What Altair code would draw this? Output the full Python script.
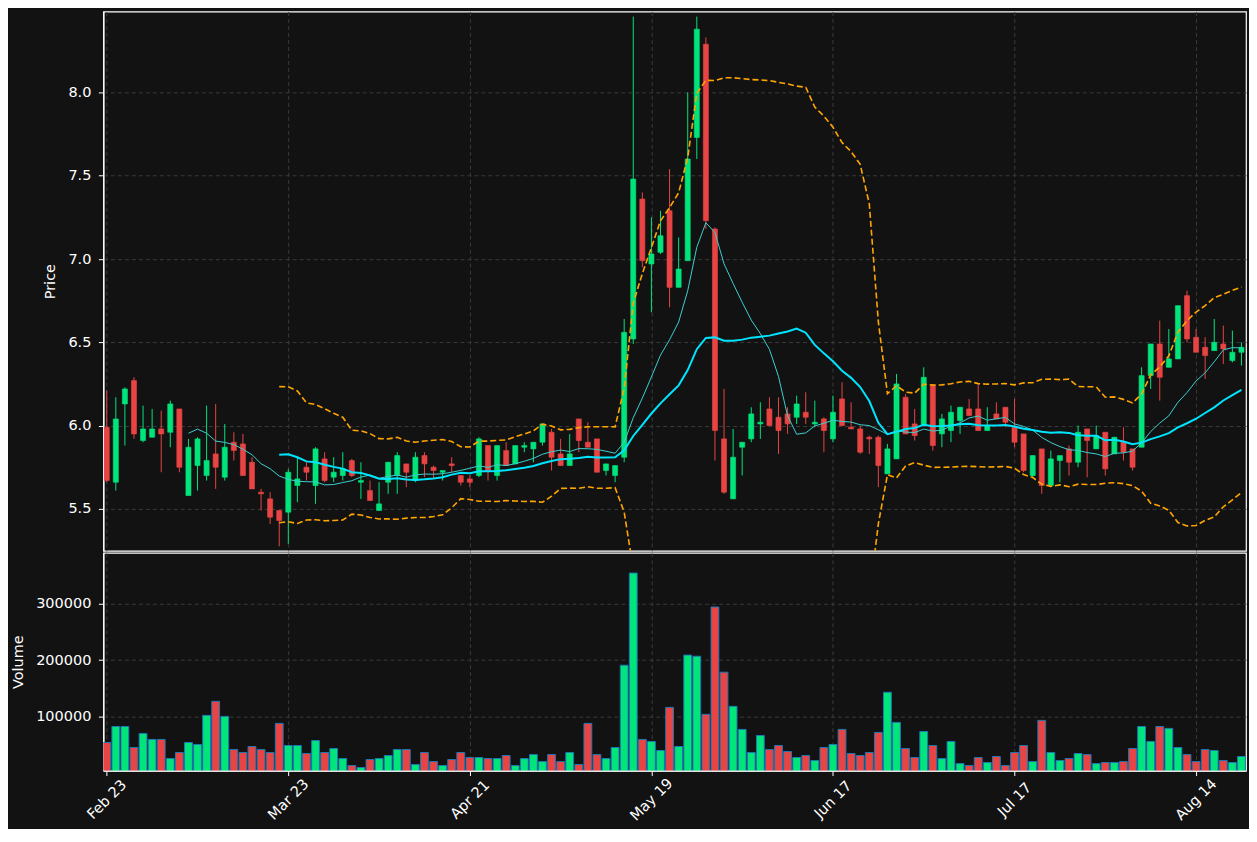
import json
import altair as alt
import numpy as np
import pandas as pd

tick_positions = [0, 20, 40, 60, 80, 100, 120]
tick_labels = ["Feb 23", "Mar 23", "Apr 21", "May 19", "Jun 17", "Jul 17", "Aug 14"]

opens = [5.99, 5.66, 6.13, 6.27, 5.91, 5.93, 5.98, 5.96, 6.10, 5.58,
         5.76, 5.70, 5.83, 5.69, 5.90, 5.89, 5.78, 5.60, 5.56, 5.49,
         5.48, 5.64, 5.75, 5.64, 5.80, 5.69, 5.70, 5.79, 5.66, 5.61,
         5.49, 5.66, 5.70, 5.77, 5.67, 5.82, 5.75, 5.72, 5.77, 5.70,
         5.68, 5.70, 5.88, 5.70, 5.85, 5.77, 5.87, 5.86, 5.90, 5.96,
         5.83, 5.76, 6.04, 5.90, 5.92, 5.73, 5.70, 5.81, 6.52, 7.36,
         6.97, 7.04, 7.29, 6.83, 6.99, 7.73, 8.29, 7.18, 5.92, 5.56,
         5.87, 5.92, 6.01, 6.10, 6.05, 6.07, 6.05, 6.08, 6.01, 6.04,
         5.92, 6.16, 5.99, 5.98, 5.93, 5.93, 5.71, 5.80, 6.17, 6.01,
         6.00, 6.24, 5.95, 5.97, 6.03, 6.10, 6.10, 5.97, 6.07, 6.11,
         5.99, 5.95, 5.70, 5.86, 5.64, 5.79, 5.86, 5.78, 5.98, 5.86,
         5.96, 5.83, 5.90, 5.86, 5.87, 6.30, 6.49, 6.35, 6.40, 6.78,
         6.53, 6.47, 6.45, 6.49, 6.39, 6.44]
highs = [6.21, 6.17, 6.23, 6.29, 6.12, 6.10, 6.09, 6.15, 6.10, 5.92,
         5.93, 6.12, 6.13, 6.01, 5.96, 5.95, 5.81, 5.62, 5.60, 5.49,
         5.74, 5.81, 5.78, 5.87, 5.84, 5.81, 5.84, 5.80, 5.78, 5.67,
         5.66, 5.78, 5.84, 5.77, 5.84, 5.84, 5.76, 5.73, 5.81, 5.70,
         5.70, 5.93, 5.88, 5.88, 5.90, 5.88, 5.90, 5.90, 6.01, 5.98,
         5.92, 5.95, 6.04, 6.02, 5.92, 5.77, 5.76, 6.64, 8.455, 7.40,
         7.25, 7.29, 7.54, 7.13, 8.00, 8.455, 8.33, 7.19, 6.22, 5.98,
         5.90, 6.11, 6.14, 6.17, 6.17, 6.11, 6.18, 6.20, 6.15, 6.05,
         6.18, 6.26, 6.14, 6.00, 5.94, 5.94, 5.89, 6.31, 6.19, 6.10,
         6.35, 6.25, 6.07, 6.12, 6.11, 6.16, 6.25, 6.11, 6.14, 6.11,
         6.16, 5.95, 5.82, 5.86, 5.85, 5.82, 5.88, 6.00, 5.98, 6.00,
         5.96, 5.93, 5.99, 5.86, 6.35, 6.49, 6.63, 6.58, 6.72, 6.81,
         6.58, 6.53, 6.64, 6.60, 6.57, 6.50]
lows = [5.66, 5.61, 5.88, 5.92, 5.90, 5.93, 5.72, 5.87, 5.72, 5.58,
        5.61, 5.67, 5.62, 5.67, 5.79, 5.70, 5.62, 5.49, 5.41, 5.275,
        5.29, 5.54, 5.67, 5.53, 5.66, 5.66, 5.67, 5.69, 5.56, 5.55,
        5.49, 5.59, 5.59, 5.63, 5.66, 5.69, 5.68, 5.67, 5.72, 5.64,
        5.63, 5.69, 5.67, 5.67, 5.76, 5.77, 5.84, 5.78, 5.88, 5.73,
        5.76, 5.76, 5.84, 5.87, 5.72, 5.70, 5.66, 5.78, 6.49, 6.95,
        6.68, 7.03, 6.71, 6.83, 6.99, 7.60, 7.18, 5.79, 5.59, 5.56,
        5.70, 5.90, 5.92, 6.00, 5.83, 5.95, 6.01, 6.01, 5.99, 5.84,
        5.90, 6.00, 5.98, 5.83, 5.83, 5.63, 5.71, 5.80, 5.95, 5.91,
        6.00, 5.85, 5.87, 5.90, 5.95, 6.06, 5.97, 5.97, 6.04, 5.99,
        5.87, 5.72, 5.69, 5.59, 5.64, 5.66, 5.70, 5.75, 5.69, 5.86,
        5.70, 5.83, 5.79, 5.73, 5.87, 6.22, 6.15, 6.35, 6.40, 6.50,
        6.44, 6.28, 6.45, 6.37, 6.38, 6.36]
closes = [5.67, 6.04, 6.22, 5.95, 5.98, 5.98, 5.95, 6.13, 5.75, 5.87,
          5.92, 5.79, 5.75, 5.87, 5.85, 5.70, 5.62, 5.59, 5.45, 5.43,
          5.72, 5.68, 5.72, 5.86, 5.67, 5.72, 5.74, 5.70, 5.67, 5.55,
          5.53, 5.78, 5.82, 5.72, 5.81, 5.77, 5.73, 5.73, 5.76, 5.66,
          5.66, 5.92, 5.73, 5.88, 5.76, 5.88, 5.88, 5.90, 6.01, 5.81,
          5.76, 5.83, 5.91, 5.87, 5.72, 5.77, 5.76, 6.56, 7.48, 6.99,
          7.03, 7.14, 6.83, 6.94, 7.60, 8.38, 7.23, 5.97, 5.60, 5.81,
          5.90, 6.07, 6.02, 6.00, 5.97, 6.01, 6.13, 6.05, 6.02, 5.97,
          6.08, 6.00, 5.98, 5.84, 5.92, 5.76, 5.86, 6.25, 5.95, 5.94,
          6.29, 5.88, 6.04, 6.08, 6.11, 6.06, 5.97, 6.00, 6.04, 6.02,
          5.90, 5.73, 5.82, 5.64, 5.80, 5.82, 5.78, 5.96, 5.91, 5.94,
          5.74, 5.93, 5.84, 5.75, 6.30, 6.49, 6.29, 6.40, 6.72, 6.52,
          6.44, 6.42, 6.50, 6.46, 6.44, 6.47]
volumes = [53600, 82000, 82000, 44600, 69600, 59000, 59000, 25000, 35700, 53600,
           50000, 101800, 126800, 100000, 41000, 35700, 46400, 41000, 35700, 87500,
           48200, 48200, 34000, 57000, 35700, 42900, 25000, 12500, 9000, 23200,
           25000, 30400, 41000, 41000, 14300, 35700, 19600, 12500, 23200, 35700,
           26800, 26800, 25000, 25000, 30400, 12500, 25000, 32000, 19600, 32000,
           19600, 35700, 14300, 87500, 32000, 25000, 44600, 191000, 355000, 59000,
           55400, 39300, 116000, 46400, 209000, 207000, 103600, 294600, 178600, 117900,
           76800, 35700, 66000, 41000, 48200, 37500, 26800, 30400, 21400, 44600,
           50000, 76800, 34000, 30400, 35700, 71400, 142900, 89300, 42900, 26800,
           73200, 48200, 25000, 55400, 16000, 12500, 26800, 17900, 28600, 12500,
           35700, 48200, 19600, 92900, 35700, 21400, 25000, 34000, 32000, 16000,
           17900, 17900, 19600, 42900, 82000, 55400, 82000, 78600, 44600, 32000,
           19600, 41000, 39300, 21400, 17900, 28600]

df = pd.DataFrame({"i": np.arange(len(closes)), "open": opens, "high": highs,
                   "low": lows, "close": closes, "volume": volumes})
df["dir"] = np.where(df["close"] >= df["open"], "up", "down")
c = df["close"]
df["ma10"] = c.rolling(10).mean()
df["ma20"] = c.rolling(20).mean()
sd = c.rolling(20).std(ddof=0)
df["bb_up"] = df["ma20"] + 2 * sd
df["bb_lo"] = df["ma20"] - 2 * sd

W = 1144
xscale = alt.Scale(domain=[-0.37, 125.5], nice=False, zero=False)
yscale = alt.Scale(domain=[5.248, 8.486], nice=False, zero=False)
candle_col = alt.Color("dir:N", scale=alt.Scale(domain=["up", "down"], range=["#00e47c", "#e84444"]), legend=None)
vol_col = alt.Color("dir:N", scale=alt.Scale(domain=["up", "down"], range=["#00ff80", "#ff4444"]), legend=None)

x_price = alt.X("i:Q", scale=xscale,
                axis=alt.Axis(values=tick_positions, labels=False, ticks=False, domain=False, grid=True, title=None))
y_axis = alt.Axis(values=[5.5, 6.0, 6.5, 7.0, 7.5, 8.0], format=".1f", title="Price")

base = alt.Chart(df)
wicks = base.mark_rule(strokeWidth=1, clip=True).encode(
    x=x_price, y=alt.Y("low:Q", scale=yscale, axis=y_axis), y2="high:Q", color=candle_col)
bodies = base.transform_calculate(bl="datum.i - 0.28", br="datum.i + 0.28").mark_bar(
    strokeWidth=0.6, clip=True).encode(
    x=alt.X("bl:Q", scale=xscale), x2="br:Q",
    y=alt.Y("open:Q", scale=yscale), y2="close:Q", color=candle_col, stroke=candle_col)
ma10 = base.mark_line(color="#3ccfcf", strokeWidth=1, clip=True).encode(
    x=alt.X("i:Q", scale=xscale), y=alt.Y("ma10:Q", scale=yscale))
ma20 = base.mark_line(color="#00e5ff", strokeWidth=2, clip=True).encode(
    x=alt.X("i:Q", scale=xscale), y=alt.Y("ma20:Q", scale=yscale))
bbu = base.mark_line(color="#ffa500", strokeWidth=1.6, strokeDash=[6, 3], clip=True).encode(
    x=alt.X("i:Q", scale=xscale), y=alt.Y("bb_up:Q", scale=yscale))
bbl = base.mark_line(color="#ffa500", strokeWidth=1.6, strokeDash=[6, 3], clip=True).encode(
    x=alt.X("i:Q", scale=xscale), y=alt.Y("bb_lo:Q", scale=yscale))

price = alt.layer(wicks, bodies, bbu, bbl, ma10, ma20).properties(width=W, height=540)

label_expr = json.dumps(tick_labels) + "[round(datum.value / 20)]"
volume = base.transform_calculate(vl="datum.i - 0.43", vr="datum.i + 0.43").mark_bar(
    stroke="#1f77b4", strokeWidth=1, clip=True).encode(
    x=alt.X("vl:Q", scale=xscale,
            axis=alt.Axis(values=tick_positions, labelExpr=label_expr, labelAngle=-45,
                          labelAlign="center", labelBaseline="middle", labelPadding=24,
                          labelOverlap=False, grid=True, title=None)),
    x2="vr:Q",
    y=alt.Y("volume:Q", scale=alt.Scale(domain=[3571, 391000], nice=False, zero=False),
            axis=alt.Axis(values=[100000, 200000, 300000], format="d", title="Volume")),
    y2=alt.datum(0),
    color=vol_col,
).properties(width=W, height=218)

chart = alt.vconcat(price, volume, spacing=0).configure(
    background="#121212", padding={"left": 1.5, "top": 2, "right": 2, "bottom": 5}
).configure_view(stroke="white", strokeWidth=1.2).configure_axis(
    labelColor="white", titleColor="white", tickColor="white", domainColor="white",
    labelFont="DejaVu Sans", titleFont="DejaVu Sans", labelFontSize=14.5, titleFontSize=14.5,
    titleFontWeight="normal", tickSize=5, labelPadding=7.5, titlePadding=10,
    gridColor="#3a3a3a", gridDash=[4, 3], gridWidth=1, domainWidth=1.2,
)

chart.save("out.html", embed_options={"renderer": "svg", "actions": False})
